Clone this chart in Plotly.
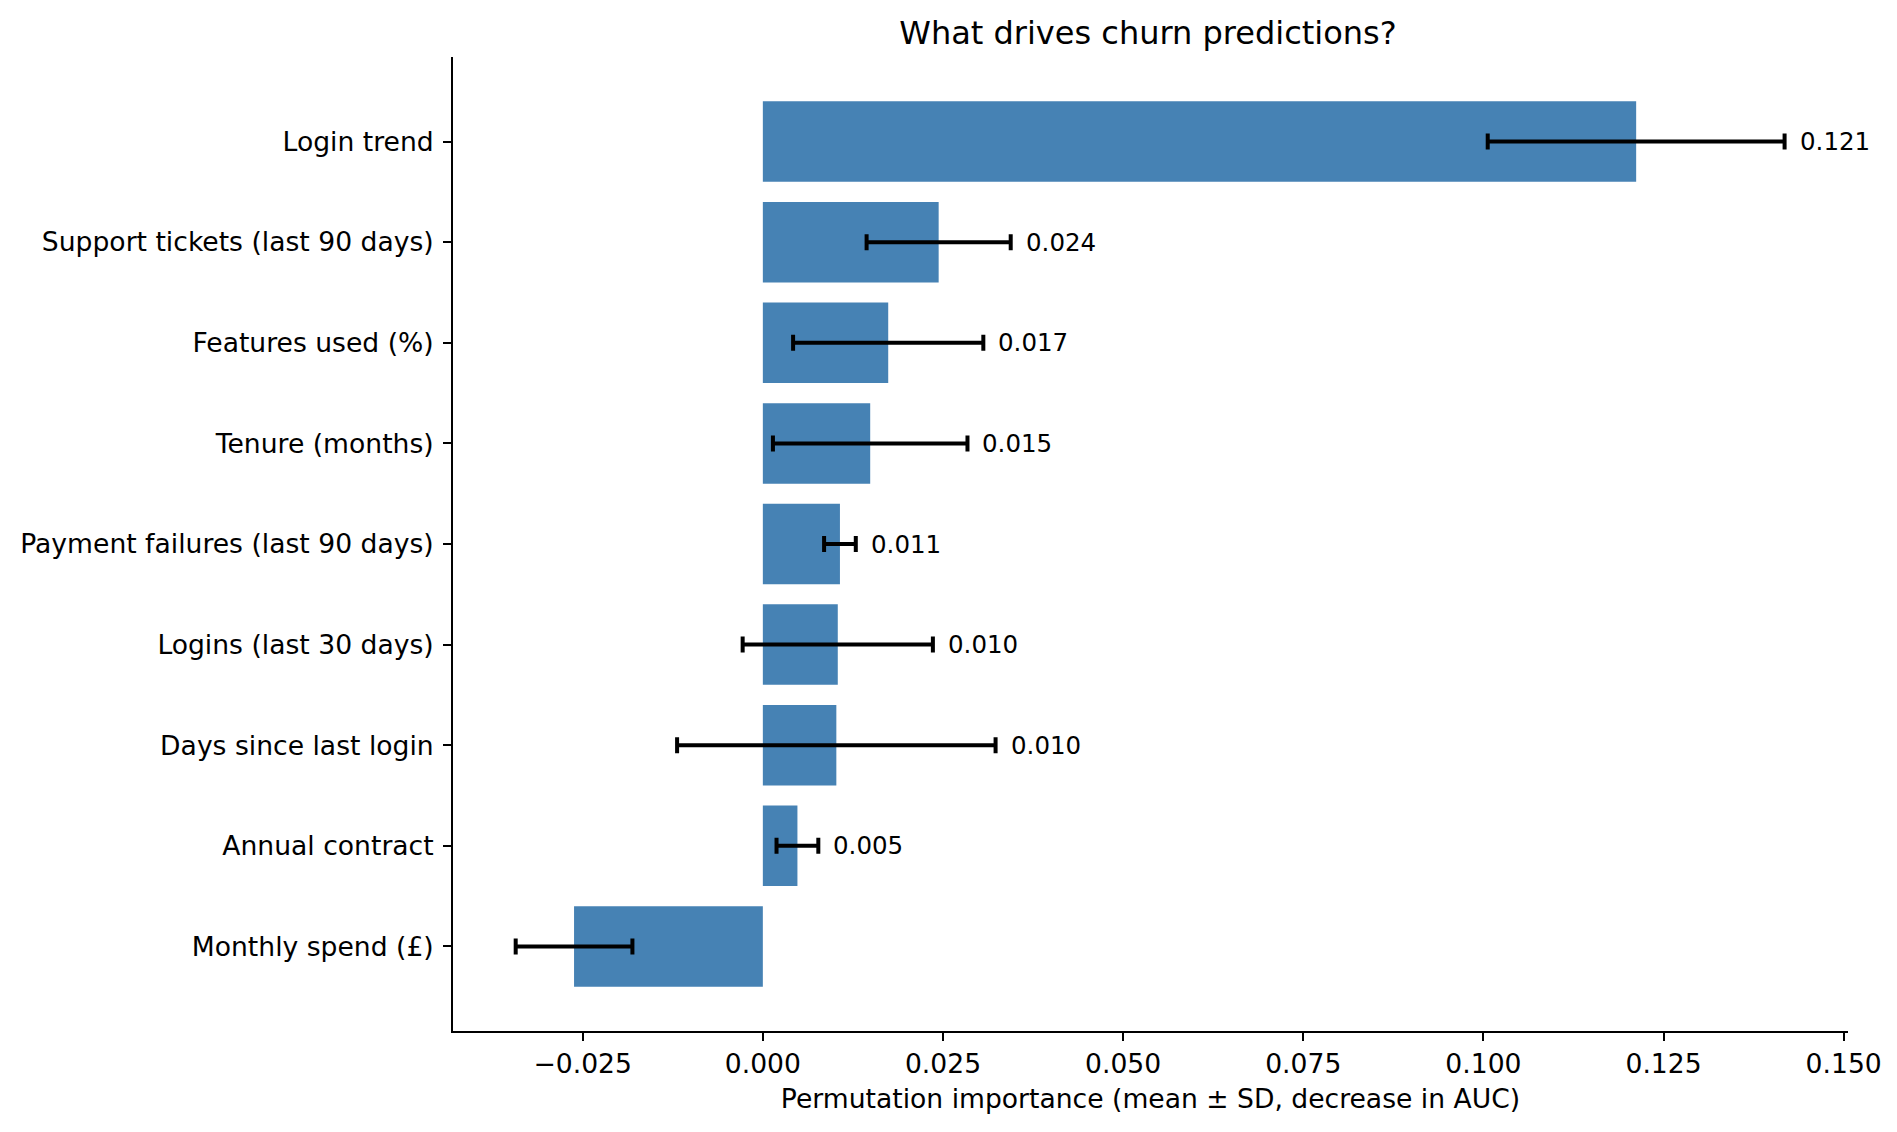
import plotly.graph_objects as go

features = ['Login trend', 'Support tickets (last 90 days)', 'Features used (%)', 'Tenure (months)',
            'Payment failures (last 90 days)', 'Logins (last 30 days)', 'Days since last login',
            'Annual contract', 'Monthly spend (£)']
importance_mean = [0.1212, 0.0244, 0.0174, 0.0149, 0.0107, 0.0104, 0.0102, 0.0048, -0.0262]
importance_sd = [0.0206, 0.0100, 0.0132, 0.0135, 0.0022, 0.0132, 0.0221, 0.0029, 0.0081]

fig = go.Figure()
fig.add_trace(go.Bar(
    x=importance_mean, y=features, orientation='h', width=0.8,
    marker=dict(color='#4682B4', line=dict(width=0)),
    error_x=dict(type='data', array=importance_sd, visible=True, color='black', thickness=4, width=8),
    hoverinfo='x+y', showlegend=False))

# value labels just right of the error bar, only for positive bars
for f, m, s in zip(features, importance_mean, importance_sd):
    if m > 0:
        fig.add_annotation(x=m + s, y=f, text=f"{m:.3f}", showarrow=False, xanchor='left', yanchor='middle',
                           xshift=13, font=dict(size=24.5, color='black'))

# the page body adds 8px on the left/top, margins account for it
fig.update_layout(
    width=1897, height=1132,
    margin=dict(l=440, r=57, t=49, b=109),
    paper_bgcolor='white', plot_bgcolor='white',
    font=dict(family='DejaVu Sans', size=26.6, color='black'),
    title=dict(text='What drives churn predictions?', x=(440 + 1897 - 57) / 2 / 1897, xanchor='center',
               y=1 - 25 / 1132, yanchor='middle', yref='container', font=dict(size=32)),
    bargap=0.2,
)
fig.update_xaxes(
    range=[-0.0430, 0.1506], tickvals=[-0.025, 0, 0.025, 0.05, 0.075, 0.1, 0.125, 0.15],
    ticktext=['\u22120.025', '0.000', '0.025', '0.050', '0.075', '0.100', '0.125', '0.150'],
    showline=True, linecolor='black', linewidth=2, ticks='outside', ticklen=8, tickwidth=2, tickcolor='black',
    showgrid=False, zeroline=False, mirror=False,
    title=dict(text='Permutation importance (mean \u00b1 SD, decrease in AUC)', standoff=11, font=dict(size=26.6)))
fig.update_yaxes(
    categoryorder='array', categoryarray=features, range=[8.84, -0.84],
    showline=True, linecolor='black', linewidth=2, ticks='outside', ticklen=8, tickwidth=2, tickcolor='black',
    showgrid=False, zeroline=False, ticklabelstandoff=4)

fig.write_html("out.html")
